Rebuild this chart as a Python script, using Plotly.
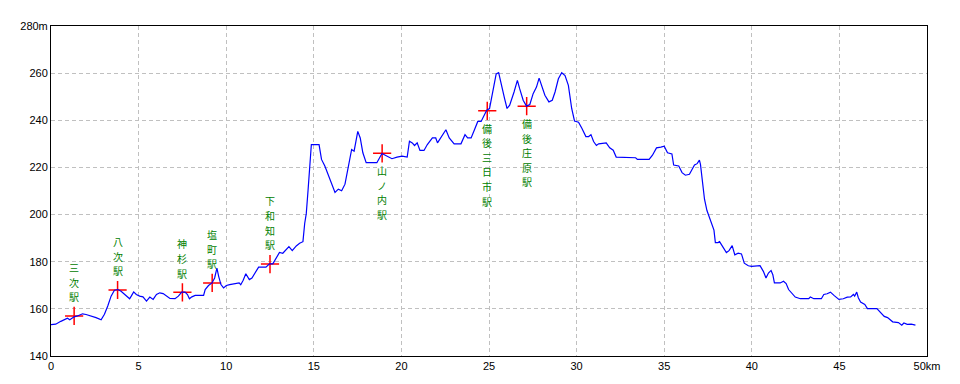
import plotly.graph_objects as go

# ---- data ----
dist_km = [0.0, 0.27, 0.56, 0.75, 0.94, 1.07, 1.32, 1.51, 1.80, 2.00, 2.28, 2.57, 2.86, 3.05, 3.24, 3.43,
           3.62, 3.82, 4.00, 4.20, 4.33, 4.49, 4.58, 4.72, 4.87, 5.06, 5.25, 5.45, 5.64, 5.83, 6.02, 6.21,
           6.40, 6.60, 6.79, 7.08, 7.27, 7.46, 7.65, 7.79, 7.90, 8.04, 8.23, 8.71, 8.80, 8.99, 9.19, 9.34,
           9.47, 9.57, 9.70, 9.85, 10.01, 10.20, 10.55, 10.74, 10.83, 10.97, 11.12, 11.32, 11.47, 11.70,
           11.85, 12.27, 12.47, 12.66, 12.85, 13.04, 13.23, 13.42, 13.58, 13.77, 14.00, 14.19, 14.38, 14.48,
           14.57, 14.67, 14.77, 14.86, 15.30, 15.44, 15.63, 15.82, 16.01, 16.21, 16.40, 16.59, 16.78, 16.97,
           17.16, 17.30, 17.41, 17.51, 17.65, 17.80, 17.99, 18.60, 18.89, 19.08, 19.46, 19.75, 20.04, 20.33,
           20.46, 20.62, 20.75, 20.90, 21.06, 21.29, 21.48, 21.77, 21.96, 22.06, 22.25, 22.54, 22.73, 23.01,
           23.40, 23.63, 23.78, 23.98, 24.17, 24.36, 24.55, 24.74, 24.87, 25.03, 25.22, 25.41, 25.55, 25.70,
           25.89, 26.03, 26.18, 26.43, 26.62, 26.75, 26.95, 27.14, 27.33, 27.52, 27.71, 27.86, 28.00, 28.19,
           28.42, 28.61, 28.77, 28.96, 29.15, 29.34, 29.53, 29.63, 29.72, 29.88, 30.11, 30.30, 30.53, 30.69,
           30.82, 30.97, 31.13, 31.26, 31.69, 31.89, 32.09, 32.26, 33.37, 33.47, 34.14, 34.33, 34.56, 34.81,
           35.00, 35.19, 35.44, 35.54, 35.83, 36.02, 36.21, 36.44, 36.73, 36.88, 37.01, 37.07, 37.17, 37.30,
           37.44, 37.59, 37.73, 37.84, 37.92, 38.07, 38.16, 38.36, 38.55, 38.70, 38.88, 39.03, 39.22, 39.41,
           39.57, 39.80, 39.99, 40.47, 40.66, 40.81, 40.95, 41.10, 41.20, 41.29, 41.62, 41.81, 41.96, 42.10,
           42.33, 42.48, 42.77, 43.25, 43.34, 43.54, 43.97, 44.11, 44.30, 44.49, 44.69, 44.97, 45.22, 45.45,
           45.64, 45.80, 45.87, 45.99, 46.08, 46.21, 46.45, 46.60, 47.14, 47.37, 47.56, 47.75, 48.04, 48.37,
           48.56, 48.68, 48.87, 49.10, 49.34]
elev_m = [153.3, 153.5, 154.7, 155.2, 156.0, 155.4, 156.6, 157.0, 157.9, 157.6, 157.0, 156.3, 155.4, 157.7,
          161.2, 165.4, 167.9, 168.2, 167.5, 166.1, 165.1, 164.3, 165.4, 167.2, 166.1, 165.4, 165.1, 163.3,
          165.0, 164.0, 166.1, 166.8, 166.5, 165.4, 164.4, 164.3, 165.4, 167.1, 167.1, 166.1, 164.3, 165.1,
          165.7, 165.7, 168.2, 169.9, 171.0, 173.1, 177.3, 173.8, 170.3, 168.9, 169.9, 170.3, 170.7, 171.0,
          170.2, 172.1, 174.9, 172.4, 173.1, 175.9, 177.7, 177.7, 179.1, 179.1, 181.5, 183.9, 183.6, 185.3,
          186.4, 184.7, 186.7, 187.8, 188.5, 196.2, 200.4, 210.1, 219.9, 229.7, 229.7, 223.4, 220.6, 217.1,
          212.9, 209.4, 210.8, 210.1, 212.9, 219.9, 227.6, 226.9, 231.1, 235.3, 232.5, 226.2, 222.0, 222.0,
          225.9, 225.2, 223.7, 224.4, 224.8, 224.4, 231.1, 230.4, 229.3, 230.4, 227.2, 227.2, 229.7, 232.5,
          232.5, 230.4, 232.5, 236.0, 232.5, 230.0, 230.0, 233.9, 232.5, 232.5, 236.0, 239.5, 239.5, 242.3,
          244.3, 245.0, 252.7, 259.7, 260.2, 254.8, 249.2, 245.0, 246.4, 252.0, 256.9, 253.4, 248.5, 246.0,
          246.7, 251.3, 254.1, 257.9, 254.8, 250.6, 247.8, 248.5, 252.0, 257.6, 260.2, 259.0, 254.8, 249.2,
          245.0, 239.7, 239.2, 236.6, 233.1, 233.1, 233.9, 231.0, 229.3, 230.0, 230.4, 228.3, 227.3, 224.4,
          224.1, 223.4, 223.4, 225.2, 228.3, 228.6, 229.0, 226.2, 225.7, 221.0, 220.6, 217.8, 216.7, 217.1,
          221.0, 221.6, 223.1, 221.3, 214.3, 206.5, 201.7, 198.9, 196.2, 193.4, 188.1, 188.1, 188.5, 186.1,
          183.9, 184.7, 186.8, 182.9, 183.6, 183.3, 179.4, 178.3, 178.0, 178.3, 175.9, 173.1, 175.2, 176.3,
          174.5, 171.0, 171.0, 171.7, 170.7, 168.2, 166.5, 165.0, 164.3, 164.3, 165.0, 164.3, 164.3, 166.1,
          166.4, 167.1, 165.7, 164.0, 164.3, 165.0, 165.1, 166.1, 165.4, 167.1, 164.7, 162.9, 161.9, 160.1,
          160.1, 158.1, 156.8, 156.3, 154.5, 154.2, 153.1, 154.0, 153.4, 153.5, 153.1]

station_names = ["三次駅", "八次駅", "神杉駅", "塩町駅", "下和知駅", "山ノ内駅", "備後三日市駅", "備後庄原駅"]
station_km = [1.32, 3.80, 7.50, 9.20, 12.50, 18.90, 24.90, 27.15]
station_elev = [157.0, 168.0, 167.0, 171.0, 179.0, 226.0, 244.0, 246.0]

x_tick_vals = [0, 5, 10, 15, 20, 25, 30, 35, 40, 45, 50]
x_tick_text = ["0", "5", "10", "15", "20", "25", "30", "35", "40", "45", "50km"]
y_tick_vals = [140, 160, 180, 200, 220, 240, 260, 280]
y_tick_text = ["140", "160", "180", "200", "220", "240", "260", "280m"]

# ---- layout choices ----
LABELS_BELOW = {"山ノ内駅", "備後三日市駅", "備後庄原駅"}
CHAR_SIZE = 10
CHAR_STEP = 14.6    # px between stacked characters (>= text box height, so boxes don't overlap)
GAP_ABOVE = 12      # px from marker to the bottom of a label above it
GAP_BELOW = 10      # px from marker to the top of a label below it
CJK = "Noto Sans CJK JP"

fig = go.Figure()
fig.add_trace(go.Scatter(
    x=station_km, y=station_elev, mode="markers",
    marker=dict(symbol="cross-thin", size=13, line=dict(color="#ff0000", width=1.5)),
    hoverinfo="skip", showlegend=False))
fig.add_trace(go.Scatter(
    x=dist_km, y=elev_m, mode="lines",
    line=dict(color="#0000ff", width=1.2), showlegend=False))

annotations = []
for name, sx, sy in zip(station_names, station_km, station_elev):
    chars = list(name)
    n = len(chars)
    for i, ch in enumerate(chars):
        if name in LABELS_BELOW:
            shift = -(GAP_BELOW + CHAR_STEP / 2 + i * CHAR_STEP)
        else:
            shift = GAP_ABOVE + CHAR_STEP / 2 + (n - 1 - i) * CHAR_STEP
        annotations.append(dict(
            x=sx, y=sy, xref="x", yref="y", text=ch, showarrow=False,
            xanchor="center", yanchor="middle", yshift=shift, borderpad=0,
            font=dict(family=CJK, size=CHAR_SIZE, color="#008000")))

axis_common = dict(
    showline=True, linecolor="#000000", linewidth=1, mirror=True,
    showgrid=True, gridcolor="#c0c0c0", gridwidth=1, griddash="4px,3px",
    zeroline=False, ticks="", tickfont=dict(family="Liberation Sans", size=11, color="#000000"),
)

# page body has an 8px margin: size the figure so the plot area lands where the reference's does
fig.update_layout(
    width=952, height=376,
    margin=dict(l=42, r=33, t=12, b=22),
    paper_bgcolor="#ffffff", plot_bgcolor="#ffffff",
    xaxis=dict(range=[0, 50], tickvals=x_tick_vals, ticktext=x_tick_text, **axis_common),
    yaxis=dict(range=[140, 280], tickvals=y_tick_vals, ticktext=y_tick_text, **axis_common),
    annotations=annotations,
)

fig.write_html("out.html")
